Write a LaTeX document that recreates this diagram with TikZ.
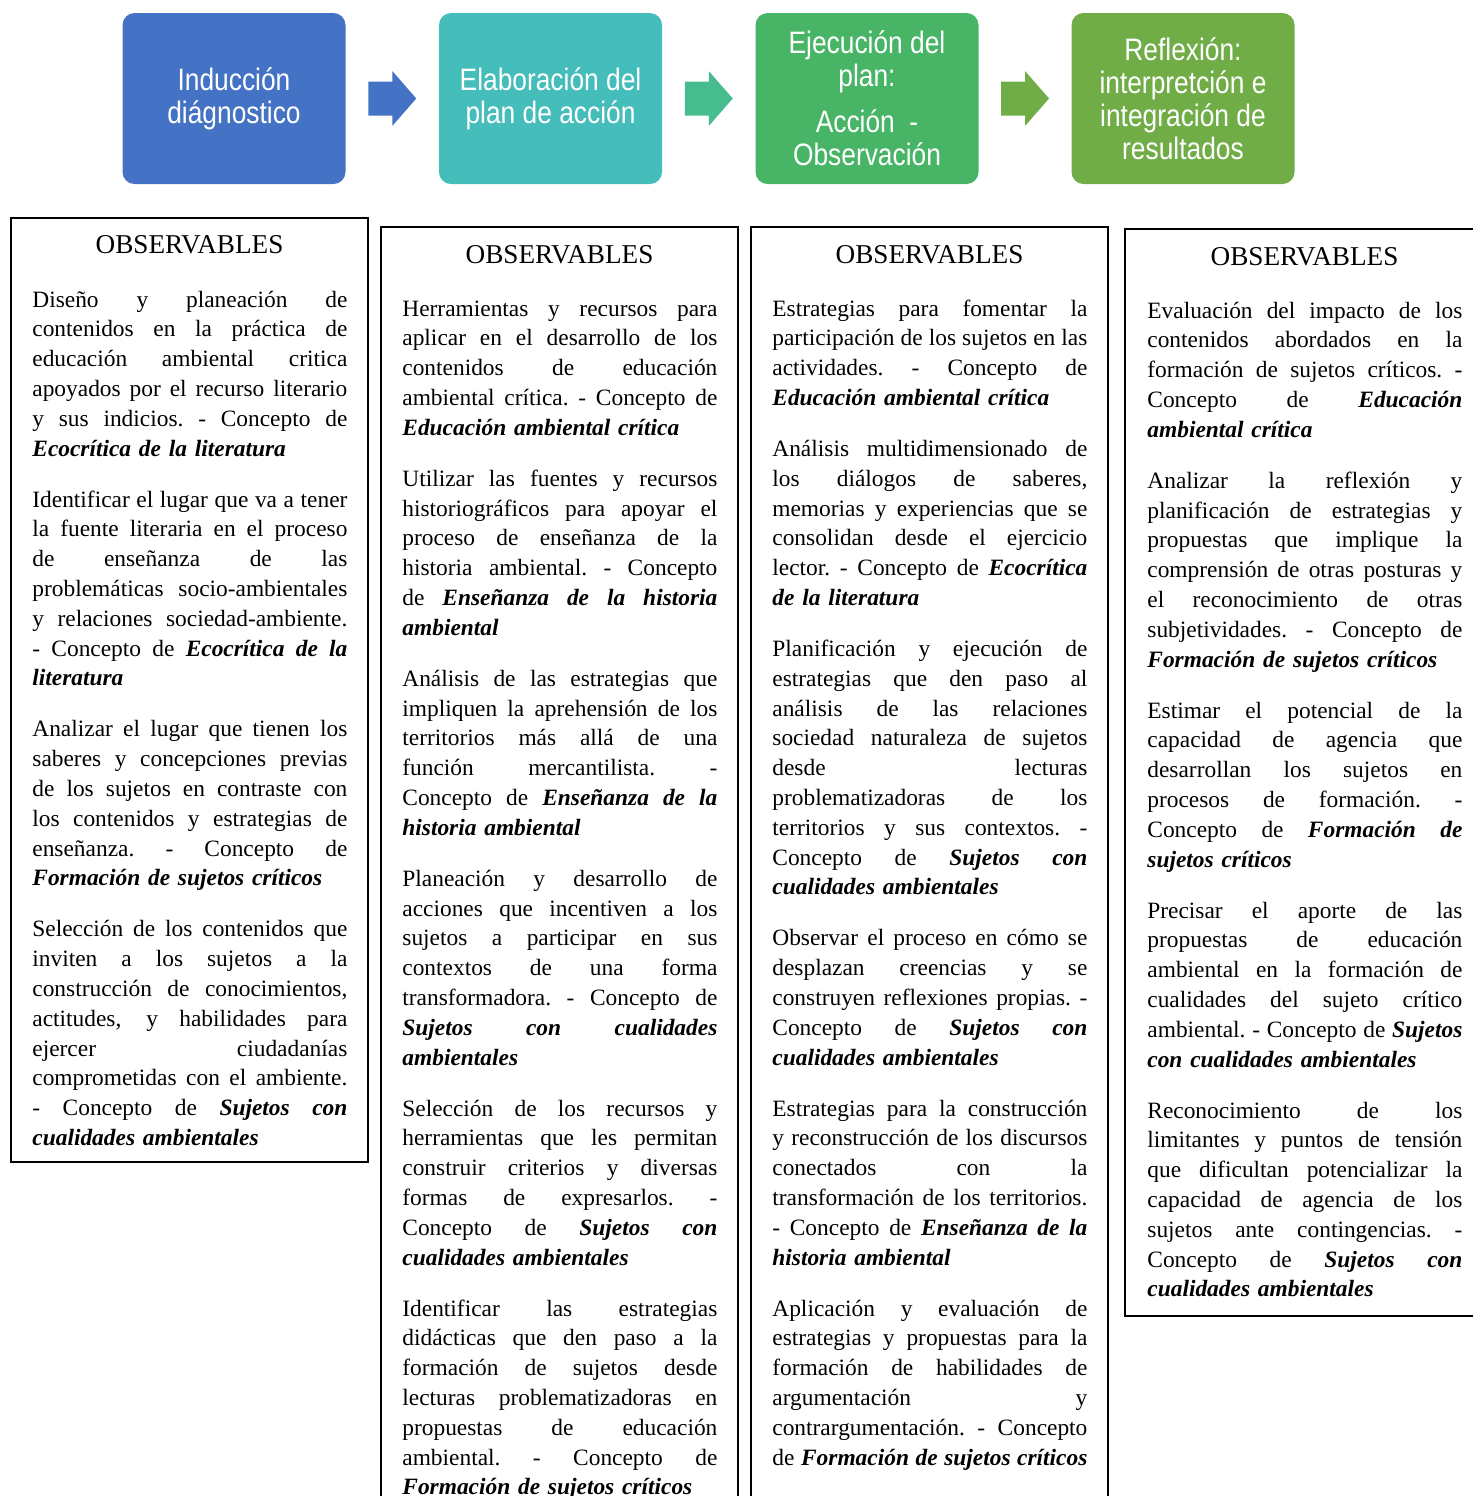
\documentclass[tikz,border=0pt]{standalone}
\usepackage{fontspec}
\setmainfont{Liberation Serif}
\newfontfamily\stagefont[FakeStretch=0.85]{Liberation Sans}
\usetikzlibrary{calc}
\definecolor{indc}{HTML}{4472C4}
\definecolor{elabc}{HTML}{45BDBA}
\definecolor{ejecc}{HTML}{47B565}
\definecolor{reflc}{HTML}{70AD47}
\definecolor{arrbc}{HTML}{47BC8F}
\newcommand{\jl}[1]{\hbox to157.5pt{\spaceskip=0.25em plus 1fil minus 0.09em
  \xspaceskip=\spaceskip\relax #1}}
\newcommand{\el}[1]{\hbox{#1}}
\newcommand{\bi}[1]{\textbf{\textit{#1}}}
\newcommand{\pgap}{\vskip10.6pt}
\hbadness=10000 \hfuzz=20pt
\tikzset{
  stage/.style={rounded corners=6pt, minimum width=111.5pt, minimum height=85.5pt,
                inner sep=0pt, align=center, text=white,
                font=\stagefont\fontsize{15.5}{16.5}\selectfont},
  obsbox/.style={draw=black, line width=1.2pt},
  obshd/.style={anchor=base, inner sep=0pt, font=\fontsize{13.6}{15}\selectfont},
  obstxt/.style={anchor=base west, inner sep=0pt, text width=157.5pt,
                 font=\fontsize{11.7}{14.9}\selectfont},
}

\begin{document}
\begin{tikzpicture}[x=0.5pt, y=-0.5pt]
\useasboundingbox (0,0) rectangle (1473,1496);
\clip (0,0) rectangle (1473,1496);
% the four stages
\node[stage, fill=indc] (h1) at (234,98.5) {Inducción\\diágnostico};
\node[stage, fill=elabc] (h2) at (550.5,98.5) {Elaboración del\\plan de acción};
\node[stage, fill=ejecc] (h3) at (867,98.5) {Ejecución del\\plan:\\[6.5pt]Acción\ \ -\\Observación};
\node[stage, fill=reflc] (h4) at (1183,98.5) {Reflexión:\\interpretción e\\integración de\\resultados};
\foreach \a/\b/\c in {h1/h2/indc, h2/h3/arrbc, h3/h4/reflc}
  \fill[\c] ($(\a.east)!0.5!(\b.west)$) ++(-24,-17) -- ++(24,0) -- ++(0,-10.5)
    -- ++(24,27.5) -- ++(-24,27.5) -- ++(0,-10.5) -- ++(-24,0) -- cycle;
% observables of each stage
\draw[obsbox] (11,218) rectangle (368,1162);
\draw[obsbox] (381,227) rectangle (738,1520);
\draw[obsbox] (751,227) rectangle (1108,1520);
\draw[obsbox] (1125,229) rectangle (1484,1316);
\node[obshd] (oA) at (189.5,253) {OBSERVABLES};
\node[obshd] (oB) at (559.5,263) {OBSERVABLES};
\node[obshd] (oC) at (929.5,263) {OBSERVABLES};
\node[obshd] (oD) at (1304.5,265) {OBSERVABLES};
\node[obstxt] (tA) at (32,307) {%
\jl{Diseño y planeación de}
\jl{contenidos en la práctica de}
\jl{educación ambiental critica}
\jl{apoyados por el recurso literario}
\jl{y sus indicios. - Concepto de}
\el{\bi{Ecocrítica de la literatura}}
\pgap
\jl{Identificar el lugar que va a tener}
\jl{la fuente literaria en el proceso}
\jl{de enseñanza de las}
\jl{problemáticas socio-ambientales}
\jl{y relaciones sociedad-ambiente.}
\jl{- Concepto de \bi{Ecocrítica de la}}
\el{\bi{literatura}}
\pgap
\jl{Analizar el lugar que tienen los}
\jl{saberes y concepciones previas}
\jl{de los sujetos en contraste con}
\jl{los contenidos y estrategias de}
\jl{enseñanza. - Concepto de}
\el{\bi{Formación de sujetos críticos}}
\pgap
\jl{Selección de los contenidos que}
\jl{inviten a los sujetos a la}
\jl{construcción de conocimientos,}
\jl{actitudes, y habilidades para}
\jl{ejercer ciudadanías}
\jl{comprometidas con el ambiente.}
\jl{- Concepto de \bi{Sujetos con}}
\el{\bi{cualidades ambientales}}};
\node[obstxt] (tB) at (402,316) {%
\jl{Herramientas y recursos para}
\jl{aplicar en el desarrollo de los}
\jl{contenidos de educación}
\jl{ambiental crítica. - Concepto de}
\el{\bi{Educación ambiental crítica}}
\pgap
\jl{Utilizar las fuentes y recursos}
\jl{historiográficos para apoyar el}
\jl{proceso de enseñanza de la}
\jl{historia ambiental. - Concepto}
\jl{de \bi{Enseñanza de la historia}}
\el{\bi{ambiental}}
\pgap
\jl{Análisis de las estrategias que}
\jl{impliquen la aprehensión de los}
\jl{territorios más allá de una}
\jl{función mercantilista. -}
\jl{Concepto de \bi{Enseñanza de la}}
\el{\bi{historia ambiental}}
\pgap
\jl{Planeación y desarrollo de}
\jl{acciones que incentiven a los}
\jl{sujetos a participar en sus}
\jl{contextos de una forma}
\jl{transformadora. - Concepto de}
\jl{\bi{Sujetos con cualidades}}
\el{\bi{ambientales}}
\pgap
\jl{Selección de los recursos y}
\jl{herramientas que les permitan}
\jl{construir criterios y diversas}
\jl{formas de expresarlos. -}
\jl{Concepto de \bi{Sujetos con}}
\el{\bi{cualidades ambientales}}
\pgap
\jl{Identificar las estrategias}
\jl{didácticas que den paso a la}
\jl{formación de sujetos desde}
\jl{lecturas problematizadoras en}
\jl{propuestas de educación}
\jl{ambiental. - Concepto de}
\el{\bi{Formación de sujetos críticos}}};
\node[obstxt] (tC) at (772,316) {%
\jl{Estrategias para fomentar la}
\jl{participación de los sujetos en las}
\jl{actividades. - Concepto de}
\el{\bi{Educación ambiental crítica}}
\pgap
\jl{Análisis multidimensionado de}
\jl{los diálogos de saberes,}
\jl{memorias y experiencias que se}
\jl{consolidan desde el ejercicio}
\jl{lector. - Concepto de \bi{Ecocrítica}}
\el{\bi{de la literatura}}
\pgap
\jl{Planificación y ejecución de}
\jl{estrategias que den paso al}
\jl{análisis de las relaciones}
\jl{sociedad naturaleza de sujetos}
\jl{desde lecturas}
\jl{problematizadoras de los}
\jl{territorios y sus contextos. -}
\jl{Concepto de \bi{Sujetos con}}
\el{\bi{cualidades ambientales}}
\pgap
\jl{Observar el proceso en cómo se}
\jl{desplazan creencias y se}
\jl{construyen reflexiones propias. -}
\jl{Concepto de \bi{Sujetos con}}
\el{\bi{cualidades ambientales}}
\pgap
\jl{Estrategias para la construcción}
\jl{y reconstrucción de los discursos}
\jl{conectados con la}
\jl{transformación de los territorios.}
\jl{- Concepto de \bi{Enseñanza de la}}
\el{\bi{historia ambiental}}
\pgap
\jl{Aplicación y evaluación de}
\jl{estrategias y propuestas para la}
\jl{formación de habilidades de}
\jl{argumentación y}
\jl{contrargumentación. - Concepto}
\jl{de \bi{Formación de sujetos críticos}}};
\node[obstxt] (tD) at (1147,318) {%
\jl{Evaluación del impacto de los}
\jl{contenidos abordados en la}
\jl{formación de sujetos críticos. -}
\jl{Concepto de \bi{Educación}}
\el{\bi{ambiental crítica}}
\pgap
\jl{Analizar la reflexión y}
\jl{planificación de estrategias y}
\jl{propuestas que implique la}
\jl{comprensión de otras posturas y}
\jl{el reconocimiento de otras}
\jl{subjetividades. - Concepto de}
\el{\bi{Formación de sujetos críticos}}
\pgap
\jl{Estimar el potencial de la}
\jl{capacidad de agencia que}
\jl{desarrollan los sujetos en}
\jl{procesos de formación. -}
\jl{Concepto de \bi{Formación de}}
\el{\bi{sujetos críticos}}
\pgap
\jl{Precisar el aporte de las}
\jl{propuestas de educación}
\jl{ambiental en la formación de}
\jl{cualidades del sujeto crítico}
\jl{ambiental. - Concepto de \bi{Sujetos}}
\el{\bi{con cualidades ambientales}}
\pgap
\jl{Reconocimiento de los}
\jl{limitantes y puntos de tensión}
\jl{que dificultan potencializar la}
\jl{capacidad de agencia de los}
\jl{sujetos ante contingencias. -}
\jl{Concepto de \bi{Sujetos con}}
\el{\bi{cualidades ambientales}}};
\end{tikzpicture}
\end{document}
